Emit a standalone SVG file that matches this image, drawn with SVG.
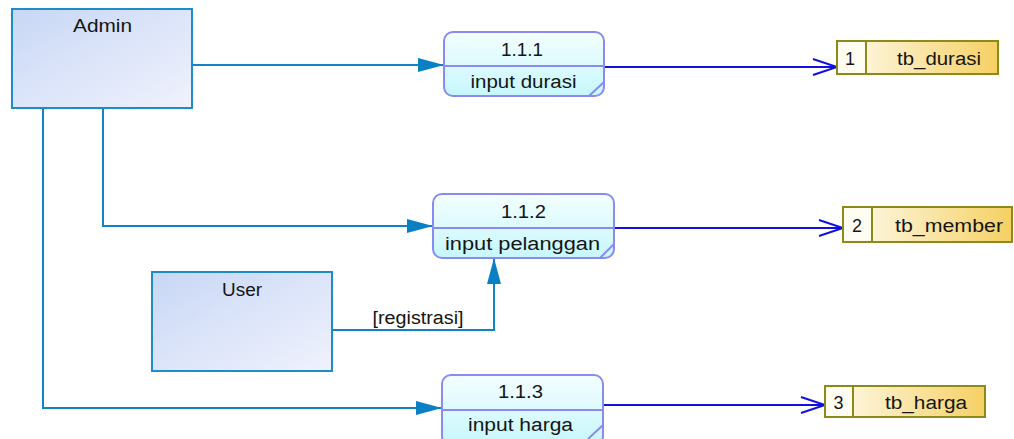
<svg xmlns="http://www.w3.org/2000/svg" width="1014" height="439" viewBox="0 0 1014 439">
  <defs>
    <linearGradient id="gEntity" x1="0" y1="0" x2="1" y2="1">
      <stop offset="0" stop-color="#c8d7f5"/>
      <stop offset="1" stop-color="#f0f2fd"/>
    </linearGradient>
    <linearGradient id="gProc" x1="0" y1="0" x2="0" y2="1">
      <stop offset="0" stop-color="#f4feff"/>
      <stop offset="1" stop-color="#c6f7fc"/>
    </linearGradient>
    <linearGradient id="gStore" x1="0" y1="0" x2="1" y2="0">
      <stop offset="0" stop-color="#fffcf0"/>
      <stop offset="1" stop-color="#f5d063"/>
    </linearGradient>
    <marker id="arrFill" markerUnits="userSpaceOnUse" markerWidth="28" markerHeight="16" refX="26" refY="7" orient="auto">
      <path d="M0,0 L26,7 L0,14 Z" fill="#0a80c4"/>
    </marker>
    <marker id="arrOpen" markerUnits="userSpaceOnUse" markerWidth="28" markerHeight="20" refX="25" refY="9" orient="auto">
      <path d="M1,1 L25,9 L1,17" fill="none" stroke="#1010e0" stroke-width="2"/>
    </marker>
  </defs>
  <style>
    text { font-family: "Liberation Sans", Arial, sans-serif; font-size: 18px; fill: #151515; }
    .mid { text-anchor: middle; }
    .entity { fill: url(#gEntity); stroke: #1d8ccc; stroke-width: 2; }
    .proc { fill: url(#gProc); stroke: #8a8af2; stroke-width: 2; }
    .procline { stroke: #8a8af2; stroke-width: 2; fill: none; }
    .store { fill: url(#gStore); stroke: #8c8a18; stroke-width: 2; }
    .storecell { fill: #fffcf2; stroke: #8c8a18; stroke-width: 2; }
    .flow { fill: none; stroke: #1183c6; stroke-width: 2; }
    .out { fill: none; stroke: #1010e0; stroke-width: 2; }
  </style>

  <!-- connectors -->
  <g id="connectors">
    <path class="flow" d="M192,65 H444" marker-end="url(#arrFill)"/>
    <path class="flow" d="M103,108 V226 H433" marker-end="url(#arrFill)"/>
    <path class="flow" d="M43,108 V408 H442" marker-end="url(#arrFill)"/>
    <path class="flow" d="M332,330 H494 V258" marker-end="url(#arrFill)"/>
    <text x="418" y="324" class="mid" textLength="91" lengthAdjust="spacingAndGlyphs">[registrasi]</text>
    <path class="out" d="M604,67 H837" marker-end="url(#arrOpen)"/>
    <path class="out" d="M614,228 H843" marker-end="url(#arrOpen)"/>
    <path class="out" d="M603,405 H825" marker-end="url(#arrOpen)"/>
  </g>

  <!-- external entities -->
  <g id="admin">
    <rect class="entity" x="12" y="9" width="180" height="99"/>
    <text x="102.5" y="32" class="mid" textLength="59" lengthAdjust="spacingAndGlyphs">Admin</text>
  </g>
  <g id="user">
    <rect class="entity" x="152" y="272" width="180" height="99"/>
    <text x="242" y="296" class="mid" textLength="40" lengthAdjust="spacingAndGlyphs">User</text>
  </g>

  <!-- processes -->
  <g id="p111">
    <rect class="proc" x="444" y="32" width="160" height="64" rx="9"/>
    <path class="procline" d="M444,66 H604 M589,96 L604,82"/>
    <text x="522" y="56" class="mid" textLength="42" lengthAdjust="spacingAndGlyphs">1.1.1</text>
    <text x="523.5" y="88" class="mid" textLength="106" lengthAdjust="spacingAndGlyphs">input durasi</text>
  </g>
  <g id="p112">
    <rect class="proc" x="433" y="194" width="181" height="64" rx="9"/>
    <path class="procline" d="M433,228 H614 M600,258 L614,244"/>
    <text x="523.5" y="218" class="mid" textLength="45" lengthAdjust="spacingAndGlyphs">1.1.2</text>
    <text x="522.5" y="250" class="mid" textLength="155" lengthAdjust="spacingAndGlyphs">input pelanggan</text>
  </g>
  <g id="p113">
    <rect class="proc" x="442" y="375" width="161" height="70" rx="9"/>
    <path class="procline" d="M442,410 H603 M588,439 L603,425"/>
    <text x="520.5" y="398" class="mid" textLength="45" lengthAdjust="spacingAndGlyphs">1.1.3</text>
    <text x="520.5" y="431" class="mid" textLength="105" lengthAdjust="spacingAndGlyphs">input harga</text>
  </g>

  <!-- data stores -->
  <g id="tb_durasi">
    <rect class="store" x="837" y="41" width="161" height="33"/>
    <rect class="storecell" x="837" y="41" width="29" height="33"/>
    <text x="850" y="65" class="mid">1</text>
    <text x="939" y="65" class="mid" textLength="84" lengthAdjust="spacingAndGlyphs">tb_durasi</text>
  </g>
  <g id="tb_member">
    <rect class="store" x="843" y="207" width="169" height="35"/>
    <rect class="storecell" x="843" y="207" width="29" height="35"/>
    <text x="857" y="232" class="mid">2</text>
    <text x="949" y="232" class="mid" textLength="108" lengthAdjust="spacingAndGlyphs">tb_member</text>
  </g>
  <g id="tb_harga">
    <rect class="store" x="825" y="386" width="160" height="31"/>
    <rect class="storecell" x="825" y="386" width="28" height="31"/>
    <text x="838.5" y="409" class="mid">3</text>
    <text x="926" y="409" class="mid" textLength="82" lengthAdjust="spacingAndGlyphs">tb_harga</text>
  </g>
</svg>
